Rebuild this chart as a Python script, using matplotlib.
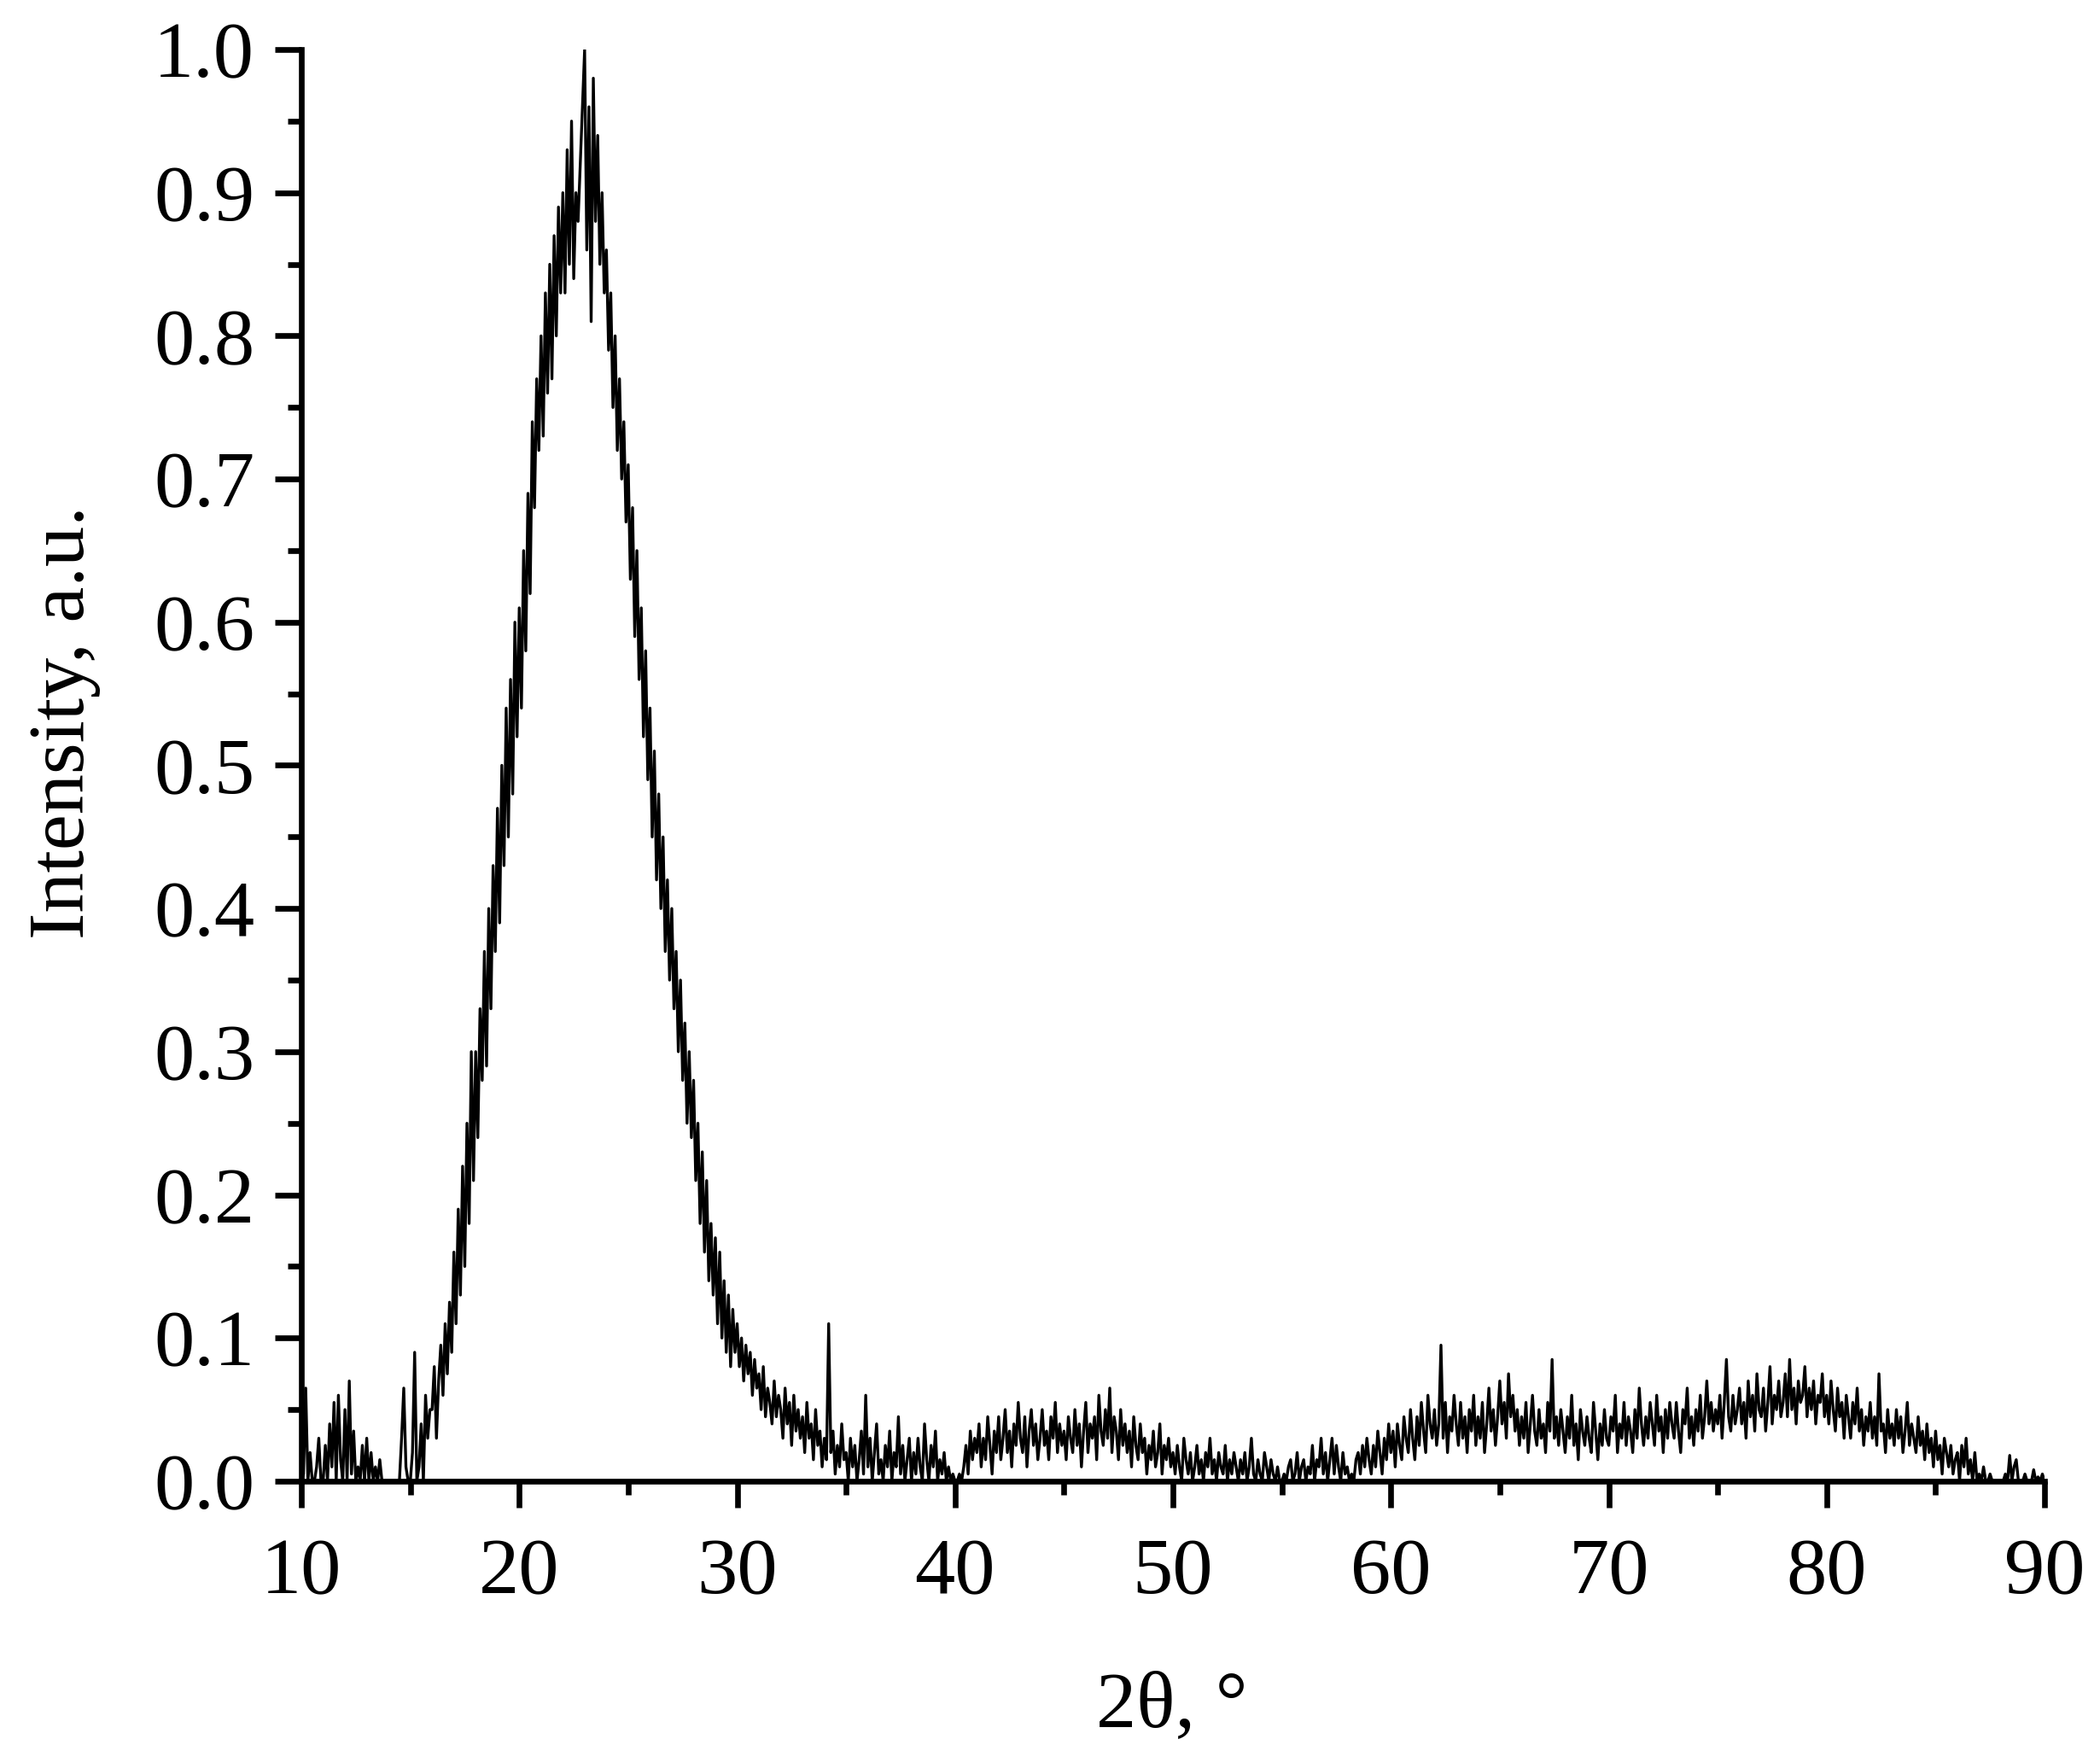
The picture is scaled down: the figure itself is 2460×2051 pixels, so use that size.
import numpy as np
import matplotlib
matplotlib.use("Agg")
import matplotlib.pyplot as plt
from matplotlib.ticker import MultipleLocator, FormatStrFormatter

# XRD scan, 2theta from 10 to 90 deg in 0.1 deg steps
# intensities, in thousandths of the max
start_2theta = 10.0
step_2theta = 0.1

i_10_20 = [
    0, 5, 65, 0, 20, 0, 0, 10, 30, 0,
    0, 25, 0, 40, 10, 55, 0, 60, 15, 0,
    50, 0, 70, 5, 35, 0, 10, 0, 25, 0,
    30, 0, 20, 0, 10, 0, 15, 0, 0, 0,
    0, 0, 0, 0, 0, 0, 30, 65, 10, 0,
    0, 20, 90, 0, 10, 40, 0, 60, 30, 50,
    50, 80, 30, 70, 95, 60, 110, 75, 125, 90,
    160, 110, 190, 130, 220, 150, 250, 180, 300, 210,
    300, 240, 330, 280, 370, 290, 400, 330, 430, 370,
    470, 390, 500, 430, 540, 450, 560, 480, 600, 520,
]
i_20_30 = [
    610, 540, 650, 580, 690, 620, 740, 680, 770, 720,
    800, 730, 830, 760, 850, 770, 870, 800, 890, 830,
    900, 830, 930, 850, 950, 840, 900, 880, 920, 960,
    1000, 860, 960, 810, 980, 880, 940, 850, 900, 830,
    860, 790, 830, 750, 800, 720, 770, 700, 740, 670,
    710, 630, 680, 590, 650, 560, 610, 520, 580, 490,
    540, 450, 510, 420, 480, 400, 450, 370, 420, 350,
    400, 330, 370, 300, 350, 280, 320, 250, 300, 240,
    280, 210, 250, 180, 230, 160, 210, 140, 180, 130,
    170, 110, 160, 100, 140, 90, 130, 80, 120, 90,
]
i_30_40 = [
    110, 80, 100, 70, 95, 75, 90, 60, 85, 65,
    75, 50, 80, 45, 65, 55, 40, 70, 45, 60,
    50, 30, 65, 40, 55, 25, 60, 35, 50, 30,
    45, 20, 55, 30, 40, 15, 50, 25, 35, 10,
    30, 15, 110, 20, 35, 5, 25, 10, 40, 15,
    20, 0, 30, 10, 25, 0, 15, 35, 5, 60,
    10, 30, 0, 20, 40, 5, 15, 0, 25, 10,
    35, 0, 20, 10, 45, 5, 25, 0, 15, 30,
    0, 20, 5, 30, 10, 0, 40, 15, 0, 25,
    10, 35, 0, 15, 5, 20, 0, 10, 0, 5,
]
i_40_50 = [
    0, 0, 5, 0, 10, 25, 5, 35, 15, 30,
    20, 40, 10, 30, 15, 45, 25, 5, 35, 20,
    45, 15, 30, 50, 20, 35, 10, 40, 25, 55,
    30, 20, 45, 10, 35, 50, 25, 40, 15, 30,
    50, 25, 35, 15, 45, 30, 55, 20, 40, 25,
    35, 15, 45, 30, 20, 50, 25, 40, 10, 35,
    55, 20, 40, 30, 45, 15, 60, 35, 25, 50,
    30, 65, 20, 45, 35, 15, 50, 25, 40, 20,
    35, 10, 45, 25, 15, 40, 20, 30, 5, 25,
    15, 35, 10, 20, 40, 5, 25, 15, 30, 10,
]
i_50_60 = [
    20, 5, 25, 10, 0, 30, 15, 5, 20, 0,
    10, 25, 5, 15, 0, 20, 10, 30, 5, 15,
    0, 20, 10, 5, 25, 0, 15, 5, 20, 10,
    0, 15, 5, 20, 0, 10, 30, 5, 0, 15,
    5, 0, 20, 10, 0, 15, 5, 0, 10, 0,
    0, 5, 0, 10, 15, 0, 5, 20, 0, 10,
    15, 0, 10, 5, 25, 0, 15, 10, 30, 5,
    20, 0, 15, 30, 5, 25, 10, 0, 20, 5,
    10, 0, 5, 0, 15, 20, 5, 25, 10, 30,
    15, 5, 25, 10, 35, 20, 5, 30, 15, 40,
]
i_60_70 = [
    20, 35, 10, 40, 25, 15, 45, 30, 20, 50,
    30, 15, 45, 25, 55, 35, 20, 60, 40, 30,
    50, 25, 40, 95, 30, 55, 20, 45, 35, 60,
    40, 25, 55, 30, 45, 20, 50, 35, 60, 25,
    45, 30, 55, 20, 40, 65, 35, 50, 25, 45,
    70, 40, 55, 30, 75, 45, 60, 35, 50, 25,
    45, 30, 55, 20, 40, 60, 35, 25, 50, 30,
    40, 20, 55, 35, 85, 30, 45, 25, 50, 35,
    20, 45, 30, 60, 25, 40, 15, 50, 35, 25,
    45, 30, 20, 55, 35, 15, 40, 25, 50, 30,
]
i_70_80 = [
    25, 45, 35, 60, 20, 40, 30, 55, 25, 45,
    35, 20, 50, 30, 65, 40, 25, 45, 30, 55,
    40, 25, 60, 35, 45, 20, 50, 30, 55, 40,
    30, 55, 35, 20, 50, 40, 65, 30, 45, 25,
    50, 35, 60, 30, 45, 70, 40, 55, 35, 50,
    40, 60, 30, 55, 85, 45, 35, 60, 40, 50,
    65, 40, 55, 30, 70, 45, 60, 35, 75, 50,
    45, 65, 35, 55, 80, 40, 60, 50, 70, 45,
    55, 75, 45, 85, 50, 65, 40, 70, 55, 60,
    80, 45, 65, 50, 70, 40, 60, 55, 75, 45,
]
i_80_90 = [
    60, 40, 70, 50, 35, 65, 45, 55, 30, 60,
    45, 30, 55, 40, 65, 35, 50, 25, 45, 35,
    55, 30, 45, 25, 75, 35, 40, 20, 50, 30,
    40, 25, 50, 30, 45, 20, 35, 55, 25, 40,
    30, 20, 45, 25, 35, 15, 40, 20, 30, 10,
    35, 15, 25, 5, 30, 20, 10, 25, 5, 15,
    20, 0, 25, 10, 30, 5, 15, 0, 20, 0,
    5, 0, 10, 0, 0, 5, 0, 0, 0, 0,
    0, 0, 5, 0, 18, 0, 10, 15, 0, 0,
    0, 5, 0, 0, 0, 8, 0, 3, 0, 5,
    0,
]

intensity = np.array(i_10_20 + i_20_30 + i_30_40 + i_40_50 +
                     i_50_60 + i_60_70 + i_70_80 + i_80_90) / 1000.0
two_theta = start_2theta + step_2theta * np.arange(len(intensity))

plt.rcParams['font.family'] = ['Liberation Serif', 'DejaVu Serif']

fig = plt.figure(figsize=(24.6, 20.51), dpi=100)
ax = fig.add_axes([0.1435, 0.1541, 0.8301, 0.8176])

ax.plot(two_theta, intensity, color='black', lw=2.4)

ax.set_xlim(10, 90)
ax.set_ylim(0, 1.0)
ax.xaxis.set_major_locator(MultipleLocator(10))
ax.xaxis.set_minor_locator(MultipleLocator(5))
ax.yaxis.set_major_locator(MultipleLocator(0.1))
ax.yaxis.set_minor_locator(MultipleLocator(0.05))
ax.yaxis.set_major_formatter(FormatStrFormatter('%.1f'))

for side in ['top', 'right']:
    ax.spines[side].set_visible(False)
for side in ['left', 'bottom']:
    ax.spines[side].set_linewidth(4.8)

ax.tick_params(which='major', direction='out', length=22.5, width=4.8,
               labelsize=68)
ax.tick_params(which='minor', direction='out', length=11.5, width=4.8)
ax.tick_params(axis='x', which='major', pad=25)
ax.tick_params(axis='y', which='major', pad=17)

# axis titles placed where they sit in the picture
fig.text(0.558, 0.0141, '2θ, °', fontsize=68, ha='center', va='baseline')
fig.text(0.0397, 0.5875, 'Intensity, a.u.', fontsize=68, rotation=90,
         rotation_mode='anchor', ha='center', va='baseline')

fig.savefig('out.png', dpi=100)
